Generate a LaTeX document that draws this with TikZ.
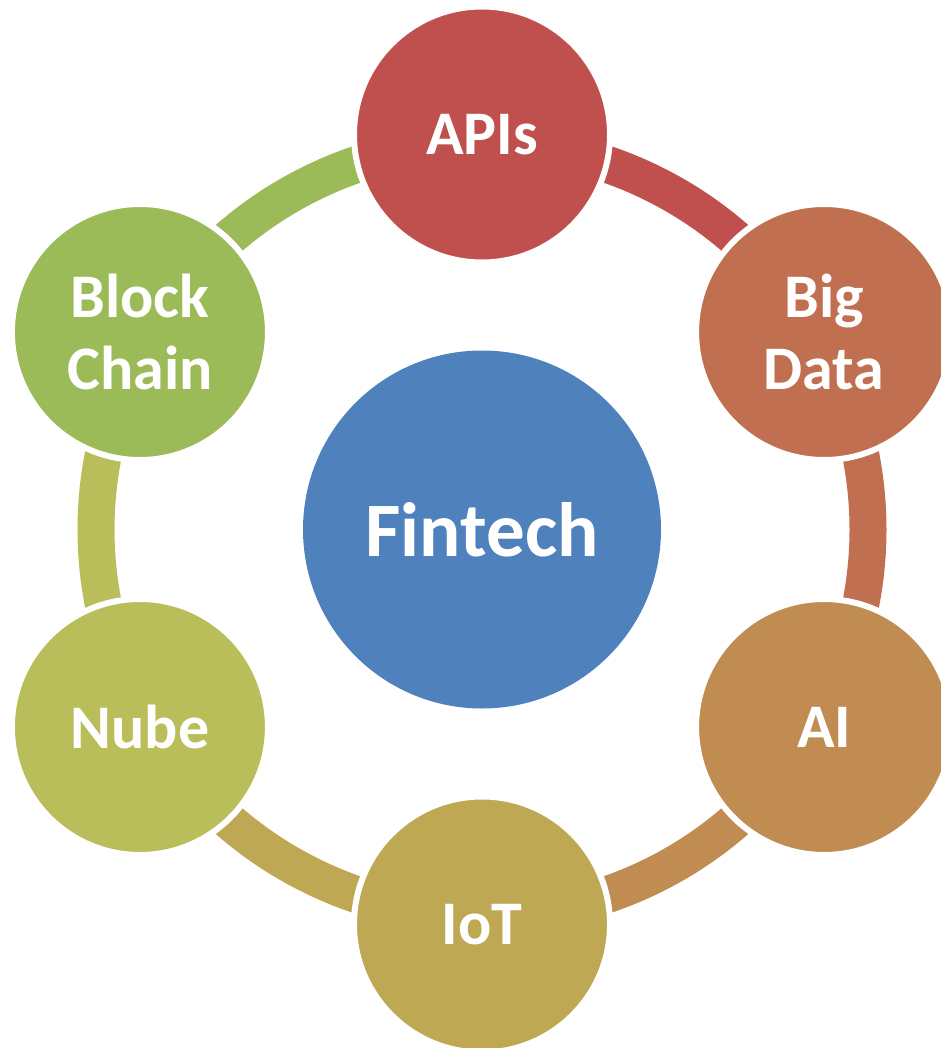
\documentclass[tikz,border=0pt]{standalone}
\usepackage{fontspec}
\usetikzlibrary{calc}
\setmainfont{Carlito}
\definecolor{cApi}{HTML}{C0504D}
\definecolor{cBig}{HTML}{C07050}
\definecolor{cAI}{HTML}{C08C52}
\definecolor{cIoT}{HTML}{BEA854}
\definecolor{cNube}{HTML}{B9BD5A}
\definecolor{cBlock}{HTML}{9BBB59}
\definecolor{cFin}{HTML}{4F81BD}
\begin{document}
\begin{tikzpicture}[x=1pt,y=1pt,
  outer/.style={circle,minimum size=256pt,inner sep=0pt,draw=white,line width=6pt,
    text=white,align=center,font=\bfseries\fontsize{62}{72}\selectfont},
  ringarc/.style={line width=37pt}]
\useasboundingbox (0,-1048) rectangle (941,0);
\coordinate (C) at (482,-529.5);
% arcs
\draw[ringarc,cApi]   (C) ++(90:386)   arc[start angle=90,end angle=30,radius=386];
\draw[ringarc,cBig]   (C) ++(30:386)   arc[start angle=30,end angle=-30,radius=386];
\draw[ringarc,cAI]    (C) ++(-30:386)  arc[start angle=-30,end angle=-90,radius=386];
\draw[ringarc,cIoT]   (C) ++(-90:386)  arc[start angle=-90,end angle=-150,radius=386];
\draw[ringarc,cNube]  (C) ++(-150:386) arc[start angle=-150,end angle=-210,radius=386];
\draw[ringarc,cBlock] (C) ++(150:386)  arc[start angle=150,end angle=90,radius=386];
% circles
\node[outer,fill=cApi]   (api)   at ($(C)+(90:395)$)   {APIs};
\node[outer,fill=cBig]   (big)   at ($(C)+(30:395)$)   {Big\\Data};
\node[outer,fill=cAI]    (ai)    at ($(C)+(-30:395)$)  {AI};
\node[outer,fill=cIoT]   (iot)   at ($(C)+(-90:395)$)  {IoT};
\node[outer,fill=cNube]  (nube)  at ($(C)+(-150:395)$) {Nube};
\node[outer,fill=cBlock] (block) at ($(C)+(150:395)$)  {Block\\Chain};
\node[circle,minimum size=358pt,inner sep=0pt,fill=cFin,text=white,
  font=\bfseries\fontsize{77}{90}\selectfont] (fin) at (C) {Fintech};
\end{tikzpicture}
\end{document}
